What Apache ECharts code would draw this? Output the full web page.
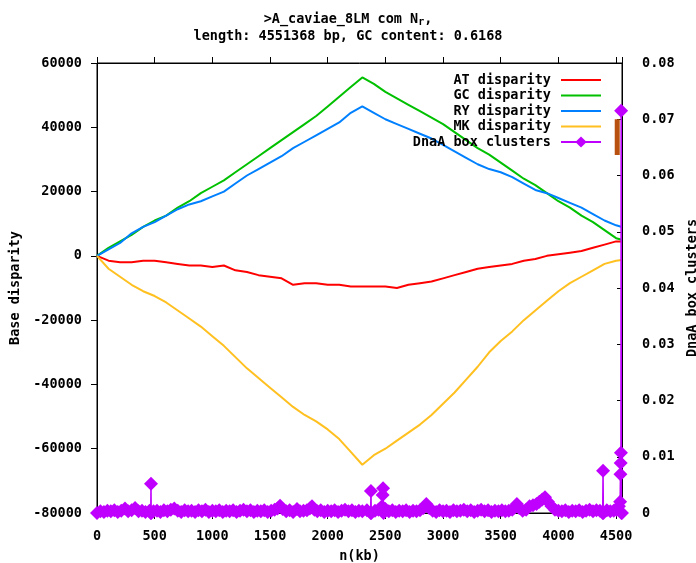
<!DOCTYPE html>
<html>
<head>
<meta charset="utf-8">
<script src="https://cdn.jsdelivr.net/npm/echarts@6/dist/echarts.min.js"></script>
<style>
  html, body { margin: 0; padding: 0; background: #fff; }
  #chart { width: 696px; height: 563px; }
</style>
</head>
<body>
<div id="chart"></div>
<script>
// Genome length in kb (x-axis extent)
const genomeKb = 4551.368;

// Positions (kb) at which the cumulative disparity curves are sampled
const positionsKb = [0,100,200,300,400,500,600,700,800,900,1000,1100,1200,1300,1400,1500,1600,1700,1800,1900,2000,2100,2200,2300,2400,2500,2600,2700,2800,2900,3000,3100,3200,3300,3400,3500,3600,3700,3800,3900,4000,4100,4200,4300,4400,4500,4551];

const atDisparity = [0,-1500,-2000,-2000,-1500,-1500,-2000,-2500,-3000,-3000,-3500,-3000,-4500,-5000,-6000,-6500,-7000,-9000,-8500,-8500,-9000,-9000,-9500,-9500,-9500,-9500,-10000,-9000,-8500,-8000,-7000,-6000,-5000,-4000,-3500,-3000,-2500,-1500,-1000,0,500,1000,1500,2500,3500,4500,4500];

const gcDisparity = [0,2500,4500,6500,9000,11000,12500,15000,17000,19500,21500,23500,26000,28500,31000,33500,36000,38500,41000,43500,46500,49500,52500,55500,53500,51000,49000,47000,45000,43000,41000,38500,36000,33500,31500,29000,26500,24000,22000,19500,17000,15000,12500,10500,8000,5500,5000];

const ryDisparity = [0,2000,4000,7000,9000,10500,12500,14500,16000,17000,18500,20000,22500,25000,27000,29000,31000,33500,35500,37500,39500,41500,44500,46500,44500,42500,41000,39500,38000,36500,34500,32500,30500,28500,27000,26000,24500,22500,20500,19500,18000,16500,15000,13000,11000,9500,9000];

const mkDisparity = [0,-4000,-6500,-9000,-11000,-12500,-14500,-17000,-19500,-22000,-25000,-28000,-31500,-35000,-38000,-41000,-44000,-47000,-49500,-51500,-54000,-57000,-61000,-65000,-62000,-60000,-57500,-55000,-52500,-49500,-46000,-42500,-38500,-34500,-30000,-26500,-23500,-20000,-17000,-14000,-11000,-8500,-6500,-4500,-2500,-1500,-1300];

// DnaA box cluster density: [position kb, value]
const dnaaClusters = [
  [0,0],[30,0.0003],[60,0.0002],[90,0.0004],[120,0.0003],[150,0.0005],[180,0.0002],[210,0.0004],[243,0.0008],[270,0.0003],
  [300,0.0005],[330,0.0009],[360,0.0003],[390,0.0004],[420,0.0002],[455,0.0004],[466,0],[468,0.0052],[470,0],[490,0.0003],
  [520,0.0004],[550,0.0002],[580,0.0005],[610,0.0003],[640,0.0006],[670,0.0008],[700,0.0004],[730,0.0002],[760,0.0005],[790,0.0003],
  [820,0.0004],[850,0.0002],[880,0.0005],[910,0.0003],[940,0.0006],[970,0.0002],[1000,0.0004],[1030,0.0003],[1060,0.0005],[1090,0.0002],
  [1120,0.0004],[1150,0.0003],[1180,0.0005],[1210,0.0002],[1240,0.0004],[1270,0.0006],[1300,0.0003],[1330,0.0005],[1360,0.0002],[1390,0.0004],
  [1420,0.0003],[1450,0.0005],[1480,0.0002],[1510,0.0004],[1540,0.0006],[1565,0.0008],[1587,0.0013],[1610,0.0007],[1640,0.0003],[1670,0.0005],
  [1700,0.0002],[1734,0.0007],[1760,0.0003],[1790,0.0004],[1820,0.0005],[1845,0.0008],[1864,0.0012],[1885,0.0006],[1910,0.0003],[1940,0.0005],
  [1970,0.0002],[2000,0.0004],[2030,0.0003],[2060,0.0005],[2090,0.0002],[2120,0.0004],[2150,0.0006],[2180,0.0003],[2210,0.0005],[2240,0.0002],
  [2270,0.0004],[2300,0.0003],[2340,0.0005],[2372,0],[2375,0.0039],[2378,0],[2410,0.0004],[2440,0.0006],[2470,0.0012],[2476,0.0032],
  [2480,0.0044],[2484,0],[2500,0.0007],[2530,0.0003],[2560,0.0005],[2590,0.0002],[2620,0.0004],[2650,0.0003],[2680,0.0005],[2710,0.0002],
  [2740,0.0004],[2770,0.0003],[2800,0.0005],[2830,0.0009],[2855,0.0016],[2880,0.0009],[2910,0.0004],[2940,0.0002],[2970,0.0005],[3000,0.0003],
  [3030,0.0004],[3060,0.0002],[3090,0.0005],[3120,0.0003],[3150,0.0004],[3180,0.0006],[3210,0.0003],[3240,0.0005],[3270,0.0002],[3300,0.0004],
  [3330,0.0006],[3360,0.0003],[3390,0.0005],[3420,0.0002],[3450,0.0004],[3480,0.0003],[3510,0.0005],[3540,0.0003],[3570,0.0004],[3600,0.0006],
  [3620,0.0010],[3640,0.0016],[3660,0.0009],[3690,0.0004],[3720,0.0006],[3750,0.0012],[3780,0.0014],[3810,0.0016],[3835,0.0020],[3860,0.0024],
  [3884,0.0028],[3910,0.0020],[3940,0.0012],[3970,0.0006],[4000,0.0004],[4030,0.0003],[4060,0.0005],[4090,0.0002],[4120,0.0004],[4150,0.0003],
  [4180,0.0005],[4210,0.0002],[4240,0.0004],[4270,0.0006],[4300,0.0003],[4330,0.0005],[4360,0.0004],[4384,0],[4387,0.0075],[4390,0],
  [4420,0.0005],[4450,0.0003],[4480,0.0004],[4505,0.0006],[4525,0.0012],[4535,0.0020],[4538,0.0069],[4540,0.0089],[4542,0.0107],[4544,0.0715],
  [4546,0],[4551,0]
];

// Origin marker segment (kb, base disparity)
const originMarker = [[4510, 31400], [4510, 42500]];

const FONT = '"DejaVu Sans Mono", "Liberation Mono", monospace';
const TXT = { fontFamily: FONT, fontWeight: 'bold', fontSize: 13.5, color: '#000' };

const pair = (ys) => positionsKb.map((x, i) => [x, ys[i]]);

const curve = (name, ys, color) => ({
  name, type: 'line', xAxisIndex: 0, yAxisIndex: 0,
  data: pair(ys), symbol: 'none', silent: true, animation: false,
  lineStyle: { color, width: 2 }, itemStyle: { color }, z: 3
});

const chart = echarts.init(document.getElementById('chart'), null, { renderer: 'canvas' });

chart.setOption({
  backgroundColor: '#fff',
  animation: false,
  title: {
    left: 'center', top: 6,
    text: '>A_caviae_8LM com N{sub|r},\nlength: 4551368 bp, GC content: 0.6168',
    textStyle: {
      fontFamily: FONT, fontWeight: 'bold', fontSize: 13.5, color: '#000', lineHeight: 17,
      rich: {
        sub: { fontFamily: FONT, fontWeight: 'bold', fontSize: 10, color: '#000', padding: [6, 0, 0, 0] }
      }
    }
  },
  legend: {
    orient: 'vertical', right: 89, top: 68, align: 'right',
    itemWidth: 40, itemHeight: 14, itemGap: 1.5,
    itemStyle: { opacity: 0 },
    data: [
      'AT disparity', 'GC disparity', 'RY disparity', 'MK disparity',
      { name: 'DnaA box clusters', itemStyle: { opacity: 1 } }
    ],
    textStyle: Object.assign({}, TXT, { lineHeight: 14, padding: [0, 5, 0, 0] }),
    selectedMode: false
  },
  grid: {
    left: 97, right: 74, top: 63, bottom: 50,
    outerBoundsMode: 'none', containLabel: false,
    show: true, borderColor: '#000', borderWidth: 1, backgroundColor: 'transparent'
  },
  xAxis: [
    {
      type: 'value', min: 0, max: genomeKb, interval: 500, position: 'bottom',
      name: 'n(kb)', nameLocation: 'middle', nameGap: 36, nameTextStyle: TXT,
      axisLine: { show: true, onZero: false, lineStyle: { color: '#000', width: 1 } },
      axisTick: { show: true, inside: false, length: 6, lineStyle: { color: '#000' } },
      axisLabel: Object.assign({}, TXT, { margin: 16, showMaxLabel: false, formatter: (v) => String(v) }),
      splitLine: { show: false }
    },
    {
      type: 'value', min: 0, max: genomeKb, interval: 500, position: 'top',
      axisLine: { show: true, onZero: false, lineStyle: { color: '#000', width: 1 } },
      axisTick: { show: true, inside: false, length: 6, lineStyle: { color: '#000' } },
      axisLabel: { show: false }, splitLine: { show: false }
    }
  ],
  yAxis: [
    {
      type: 'value', min: -80000, max: 60000, interval: 20000, position: 'left',
      name: 'Base disparity', nameLocation: 'middle', nameGap: 71, nameRotate: 90, nameTextStyle: TXT,
      axisLine: { show: true, onZero: false, lineStyle: { color: '#000', width: 1 } },
      axisTick: { show: true, inside: false, length: 6, lineStyle: { color: '#000' } },
      axisLabel: Object.assign({}, TXT, { margin: 15, formatter: (v) => String(v) }),
      splitLine: { show: false }
    },
    {
      type: 'value', min: 0, max: 0.08, interval: 0.01, position: 'right',
      name: 'DnaA box clusters', nameLocation: 'middle', nameGap: 60, nameRotate: 90, nameTextStyle: TXT,
      axisLine: { show: true, onZero: false, lineStyle: { color: '#000', width: 1 } },
      axisTick: { show: true, inside: true, length: 5, lineStyle: { color: '#000' } },
      axisLabel: Object.assign({}, TXT, { margin: 20, formatter: (v) => v === 0 ? '0' : v.toFixed(2) }),
      splitLine: { show: false }
    }
  ],
  series: [
    curve('AT disparity', atDisparity, '#ff0000'),
    curve('GC disparity', gcDisparity, '#00c000'),
    curve('RY disparity', ryDisparity, '#0080ff'),
    curve('MK disparity', mkDisparity, '#ffc020'),
    {
      type: 'line', xAxisIndex: 0, yAxisIndex: 0, data: originMarker, symbol: 'none', silent: true,
      lineStyle: { color: '#b85010', width: 5 }, z: 4
    },
    {
      name: 'DnaA box clusters', type: 'line', xAxisIndex: 0, yAxisIndex: 1,
      data: dnaaClusters, symbol: 'diamond', symbolSize: 14, showAllSymbol: true, silent: true,
      lineStyle: { color: '#c000ff', width: 1.5 }, itemStyle: { color: '#c000ff' }, z: 5, clip: false
    }
  ]
});
</script>
</body>
</html>
